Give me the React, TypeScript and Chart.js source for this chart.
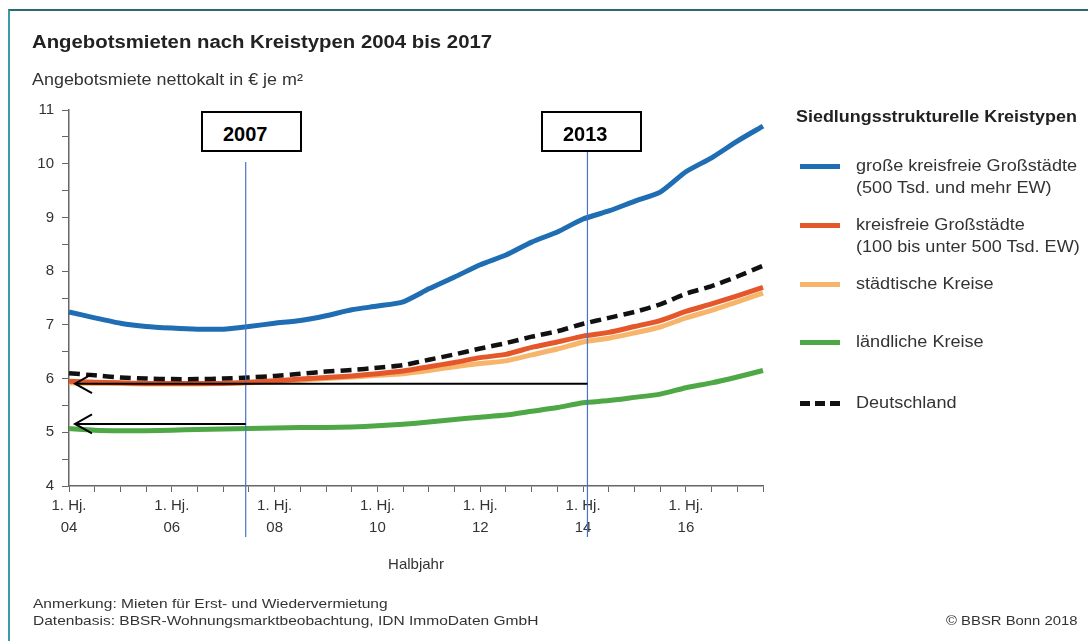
import React, { useEffect, useRef } from 'react';
import { Chart, registerables } from 'chart.js';

Chart.register(...registerables);

const FONT = '"Liberation Sans", Arial, Helvetica, sans-serif';

// Categories: half-years 2004 .. 2017
const halfYears = [
  '1. Hj. 04', '2. Hj. 04', '1. Hj. 05', '2. Hj. 05', '1. Hj. 06', '2. Hj. 06', '1. Hj. 07',
  '2. Hj. 07', '1. Hj. 08', '2. Hj. 08', '1. Hj. 09', '2. Hj. 09', '1. Hj. 10', '2. Hj. 10',
  '1. Hj. 11', '2. Hj. 11', '1. Hj. 12', '2. Hj. 12', '1. Hj. 13', '2. Hj. 13', '1. Hj. 14',
  '2. Hj. 14', '1. Hj. 15', '2. Hj. 15', '1. Hj. 16', '2. Hj. 16', '1. Hj. 17', '2. Hj. 17',
];
const labelledTicks = ['1. Hj. 04', '1. Hj. 06', '1. Hj. 08', '1. Hj. 10', '1. Hj. 12', '1. Hj. 14', '1. Hj. 16'];

// Series (€ per m²)
const grosseKreisfreieGrossstaedte = [
  7.24, 7.13, 7.03, 6.97, 6.94, 6.92, 6.92, 6.97, 7.03, 7.08, 7.17, 7.28, 7.35, 7.43,
  7.67, 7.89, 8.12, 8.30, 8.54, 8.73, 8.97, 9.12, 9.30, 9.47, 9.85, 10.11, 10.42, 10.70,
];
const kreisfreieGrossstaedte = [
  5.95, 5.93, 5.92, 5.91, 5.91, 5.91, 5.91, 5.93, 5.96, 5.99, 6.02, 6.05, 6.09, 6.14,
  6.22, 6.30, 6.39, 6.45, 6.58, 6.68, 6.79, 6.86, 6.97, 7.08, 7.25, 7.39, 7.54, 7.70,
];
const staedtischeKreise = [
  5.92, 5.91, 5.91, 5.90, 5.90, 5.90, 5.91, 5.92, 5.94, 5.97, 6.00, 6.03, 6.06, 6.09,
  6.15, 6.22, 6.28, 6.33, 6.44, 6.55, 6.68, 6.75, 6.85, 6.96, 7.13, 7.27, 7.43, 7.59,
];
const laendlicheKreise = [
  5.07, 5.04, 5.03, 5.03, 5.04, 5.05, 5.06, 5.07, 5.08, 5.09, 5.09, 5.10, 5.12, 5.15,
  5.19, 5.24, 5.28, 5.32, 5.39, 5.46, 5.55, 5.59, 5.65, 5.71, 5.83, 5.92, 6.03, 6.15,
];
const deutschland = [
  6.10, 6.06, 6.02, 6.00, 5.99, 5.99, 6.00, 6.02, 6.05, 6.09, 6.13, 6.16, 6.20, 6.25,
  6.35, 6.45, 6.56, 6.66, 6.78, 6.88, 7.02, 7.13, 7.24, 7.38, 7.58, 7.72, 7.90, 8.10,
];

// Annotation markers (category index position, top of marker line value, arrow target value)
const markerLabels = ['2007', '2013'];
const markerPositions = [6.875, 20.17];
const markerTops = [10.03, 10.22];
const arrowTargets = [5.155, 5.905];

const COLORS = {
  blue: '#1f6db3',
  orange: '#e4572a',
  light: '#f7b56b',
  green: '#4da845',
  black: '#111111',
};

const markerPlugin = {
  id: 'markers',
  afterDatasetsDraw(chart: any) {
    const { ctx, scales } = chart;
    const x = scales.x;
    const y = scales.y;
    ctx.save();
    markerPositions.forEach((pos, i) => {
      const px = x.getPixelForValue(pos);
      ctx.strokeStyle = '#4a72c8';
      ctx.lineWidth = 1.2;
      ctx.beginPath();
      ctx.moveTo(px, y.getPixelForValue(markerTops[i]));
      ctx.lineTo(px, y.bottom + 51);
      ctx.stroke();
      const ay = y.getPixelForValue(arrowTargets[i]);
      const tip = x.getPixelForValue(0) + 6;
      ctx.strokeStyle = '#000';
      ctx.lineWidth = 2;
      ctx.beginPath();
      ctx.moveTo(px, ay);
      ctx.lineTo(tip, ay);
      ctx.stroke();
      ctx.beginPath();
      ctx.moveTo(tip + 17, ay - 9.5);
      ctx.lineTo(tip, ay);
      ctx.lineTo(tip + 17, ay + 9.5);
      ctx.stroke();
    });
    ctx.restore();
  },
};

const legendItems = [
  { lines: ['große kreisfreie Großstädte', '(500 Tsd. und mehr EW)'], color: COLORS.blue, y: 166, dashed: false },
  { lines: ['kreisfreie Großstädte', '(100 bis unter 500 Tsd. EW)'], color: COLORS.orange, y: 225, dashed: false },
  { lines: ['städtische Kreise'], color: COLORS.light, y: 284, dashed: false },
  { lines: ['ländliche Kreise'], color: COLORS.green, y: 342, dashed: false },
  { lines: ['Deutschland'], color: COLORS.black, y: 403, dashed: true },
];

function Text({ x, cy, size, bold, children, color, align, sx }: any) {
  const k = sx || 1;
  const style: any = {
    position: 'absolute',
    top: cy - size / 2,
    fontSize: size,
    lineHeight: `${size}px`,
    fontWeight: bold ? 'bold' : 'normal',
    color: color || '#222',
    whiteSpace: 'nowrap',
    fontFamily: FONT,
    transform: `scaleX(${k})`,
    transformOrigin: align === 'right' ? 'right center' : align === 'center' ? 'center center' : 'left center',
  };
  if (align === 'right') style.right = 1088 - x;
  else if (align === 'center') {
    style.left = x - 200;
    style.width = 400;
    style.textAlign = 'center';
  } else style.left = x;
  return <div style={style}>{children}</div>;
}

export default function App() {
  const ref = useRef<HTMLCanvasElement>(null);

  useEffect(() => {
    const chart = new Chart(ref.current as HTMLCanvasElement, {
      type: 'line',
      data: {
        labels: halfYears,
        datasets: [
          { label: 'Deutschland', data: deutschland, borderColor: COLORS.black, borderWidth: 4.5, borderDash: [11, 6], order: 0 },
          { label: 'große kreisfreie Großstädte', data: grosseKreisfreieGrossstaedte, borderColor: COLORS.blue, borderWidth: 5, order: 1 },
          { label: 'kreisfreie Großstädte', data: kreisfreieGrossstaedte, borderColor: COLORS.orange, borderWidth: 5, order: 2 },
          { label: 'städtische Kreise', data: staedtischeKreise, borderColor: COLORS.light, borderWidth: 5, order: 3 },
          { label: 'ländliche Kreise', data: laendlicheKreise, borderColor: COLORS.green, borderWidth: 5, order: 4 },
        ] as any,
      },
      options: {
        animation: false,
        responsive: true,
        maintainAspectRatio: false,
        layout: { padding: { left: 29, top: 110, right: 325, bottom: 100 } },
        elements: {
          point: { radius: 0, hoverRadius: 0 },
          line: { tension: 0.2, borderCapStyle: 'butt', borderJoinStyle: 'round', fill: false },
        },
        plugins: {
          legend: { display: false },
          title: { display: false },
          tooltip: { enabled: false },
        },
        scales: {
          x: {
            type: 'category',
            offset: false,
            afterFit: (scale: any) => { scale.height = 55; },
            grid: { display: true, drawOnChartArea: false, drawTicks: true, tickLength: 6, color: '#666', offset: false },
            border: { display: true, color: '#666', width: 1.5 },
            ticks: {
              autoSkip: false,
              maxRotation: 0,
              minRotation: 0,
              padding: 3,
              color: '#333',
              font: { family: FONT, size: 15, lineHeight: 1.45 },
              callback: function (this: any, value: any) {
                const lab = this.getLabelForValue(value);
                return labelledTicks.includes(lab) ? [lab.slice(0, 6), lab.slice(7)] : '';
              },
            },
          },
          y: {
            min: 4,
            max: 11,
            afterFit: (scale: any) => { scale.width = 40; },
            grid: { display: true, drawOnChartArea: false, drawTicks: true, tickLength: 7, color: '#666' },
            border: { display: true, color: '#666', width: 1.5 },
            ticks: {
              stepSize: 0.5,
              padding: 8,
              color: '#333',
              font: { family: FONT, size: 15 },
              callback: (v: any) => (Number.isInteger(v) ? String(v) : ''),
            },
          },
        },
      },
      plugins: [markerPlugin],
    });
    return () => chart.destroy();
  }, []);

  return (
    <div style={{ position: 'absolute', left: 0, top: 0, width: 1088, height: 641, background: '#fff', overflow: 'hidden', fontFamily: FONT }}>
      <div style={{ position: 'absolute', left: 8, top: 9, right: 0, bottom: 0, borderTop: '2px solid #2b6a73', borderLeft: '2px solid #3a9ba4' }} />
      <div style={{ position: 'absolute', left: 0, top: 0, width: 1088, height: 641 }}>
        <canvas ref={ref} />
      </div>

      <Text x={32} cy={42} size={18} bold sx={1.13}>Angebotsmieten nach Kreistypen 2004 bis 2017</Text>
      <Text x={32} cy={80} size={16} color="#333" sx={1.12}>Angebotsmiete nettokalt in € je m²</Text>

      {markerLabels.map((lab, i) => (
        <div key={lab} style={{
          position: 'absolute', left: i === 0 ? 201 : 541, top: 111, width: 101, height: 41,
          border: '2px solid #000', boxSizing: 'border-box', background: '#fff',
        }}>
          <div style={{ position: 'absolute', left: 20, top: 11, fontSize: 20, lineHeight: '20px', fontWeight: 'bold', color: '#000', fontFamily: FONT }}>{lab}</div>
        </div>
      ))}

      <Text x={416} cy={563} size={15} color="#333" align="center">Halbjahr</Text>

      <Text x={796} cy={117} size={16} bold sx={1.12}>Siedlungsstrukturelle Kreistypen</Text>
      {legendItems.map((it) => (
        <React.Fragment key={it.lines[0]}>
          {it.dashed ? (
            [0, 1, 2].map((k) => (
              <div key={k} style={{ position: 'absolute', left: 800 + k * 15, top: it.y - 2.5, width: 10, height: 5, background: it.color }} />
            ))
          ) : (
            <div style={{ position: 'absolute', left: 800, top: it.y - 2.5, width: 40, height: 5, background: it.color }} />
          )}
          {it.lines.map((ln, j) => (
            <Text key={ln} x={856} cy={it.y + j * 21.7} size={16} color="#333" sx={1.13}>{ln}</Text>
          ))}
        </React.Fragment>
      ))}

      <Text x={33} cy={604} size={13.5} color="#333" sx={1.15}>Anmerkung: Mieten für Erst- und Wiedervermietung</Text>
      <Text x={33} cy={621} size={13.5} color="#333" sx={1.15}>Datenbasis: BBSR-Wohnungsmarktbeobachtung, IDN ImmoDaten GmbH</Text>
      <Text x={1078} cy={621} size={13.5} color="#333" align="right" sx={1.1}>© BBSR Bonn 2018</Text>
    </div>
  );
}
